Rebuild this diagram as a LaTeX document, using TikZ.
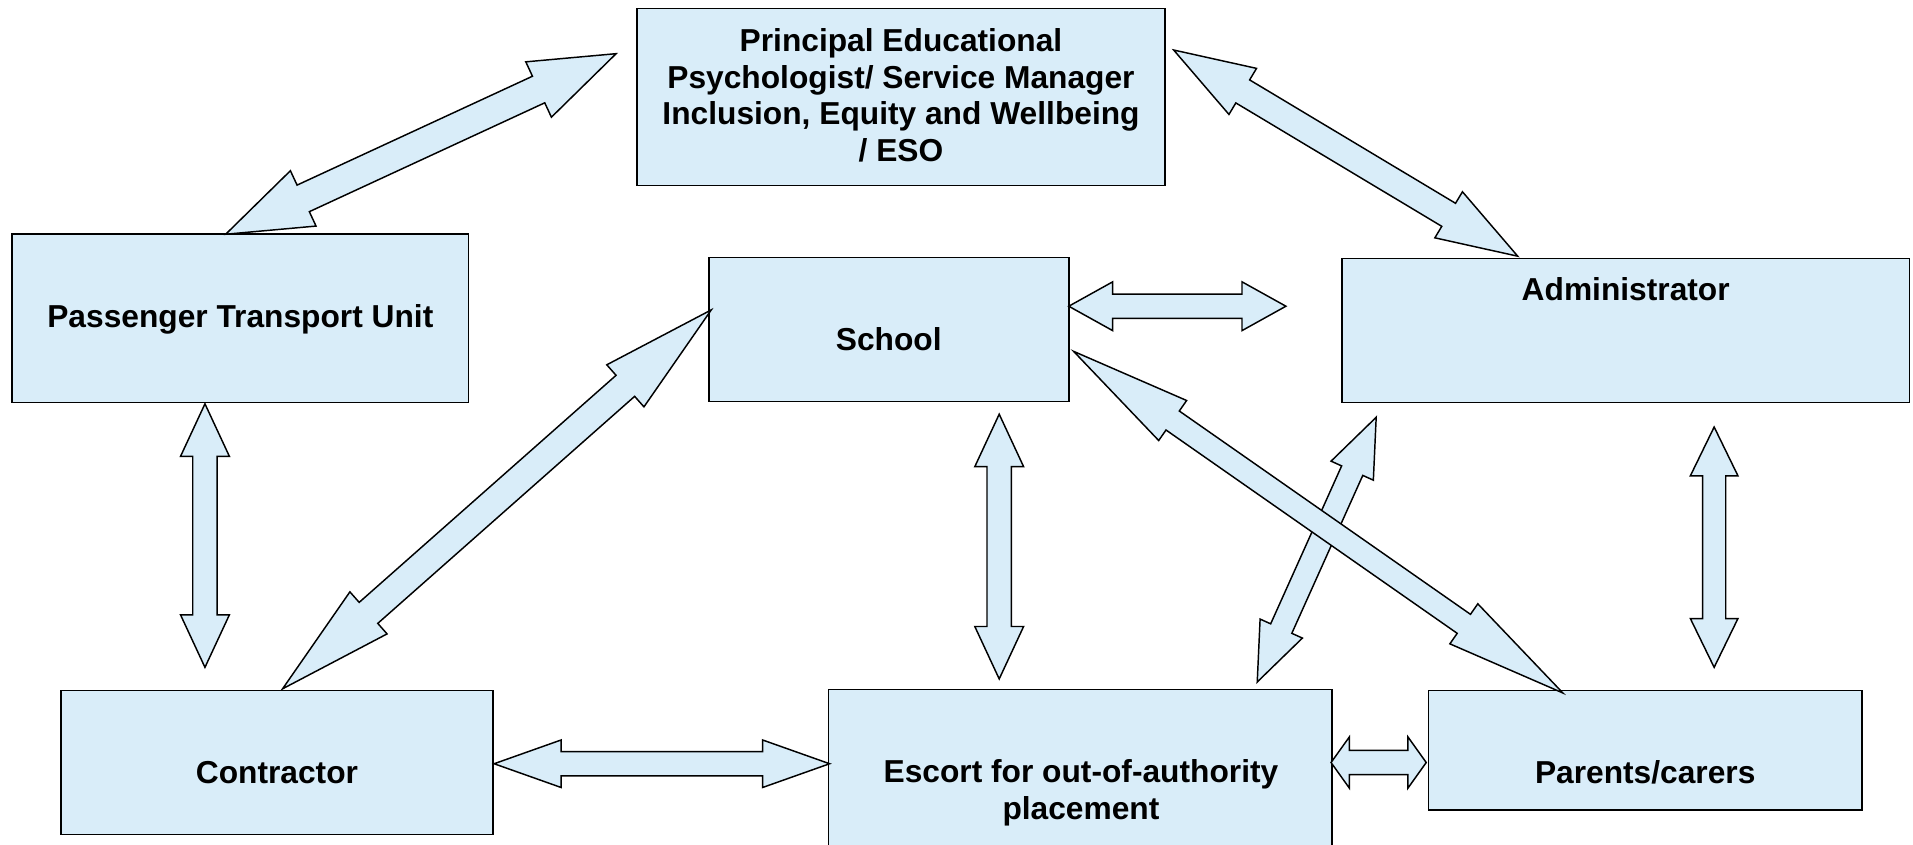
\documentclass[tikz,border=0pt]{standalone}
\usepackage{fontspec}
\setmainfont{Liberation Sans}
\usetikzlibrary{calc}
\definecolor{boxfill}{RGB}{217,237,249}
\tikzset{
  box/.style={draw=black, line width=1.3pt, fill=boxfill, rectangle, inner sep=0pt},
  lbl/.style={font=\bfseries\fontsize{26}{30}\selectfont, align=center, inner sep=0pt},
  blockarr/.style={draw=black, line width=1.2pt, fill=boxfill, line join=miter}
}
% #1 tip A, #2 tip B, #3 head length, #4 head half-width, #5 shaft half-width
\newcommand\blockarrow[5]{%
  \draw[blockarr] (#1)
    -- ($(#1)!#3pt!(#2)!#4pt!90:(#2)$)
    -- ($(#1)!#3pt!(#2)!#5pt!90:(#2)$)
    -- ($(#2)!#3pt!(#1)!#5pt!-90:(#1)$)
    -- ($(#2)!#3pt!(#1)!#4pt!-90:(#1)$)
    -- (#2)
    -- ($(#2)!#3pt!(#1)!#4pt!90:(#1)$)
    -- ($(#2)!#3pt!(#1)!#5pt!90:(#1)$)
    -- ($(#1)!#3pt!(#2)!#5pt!-90:(#2)$)
    -- ($(#1)!#3pt!(#2)!#4pt!-90:(#2)$)
    -- cycle;}
\begin{document}
\begin{tikzpicture}[x=1pt,y=-1pt]
\clip (0,0) rectangle (1568,692);
\useasboundingbox (0,0) rectangle (1568,692);
\fill[white] (0,0) rectangle (1568,692);

% boxes
\node[box, minimum width=433pt, minimum height=145pt] (psych) at (738.5,79.5) {};
\node[box, minimum width=374pt, minimum height=138pt] (ptu) at (197,261) {};
\node[box, minimum width=295pt, minimum height=118pt] (school) at (728.5,270) {};
\node[box, minimum width=465pt, minimum height=118pt] (admin) at (1332.5,271) {};
\node[box, minimum width=354pt, minimum height=118pt] (contractor) at (227,625) {};
\node[box, minimum width=413pt, minimum height=140pt] (escort) at (885.5,635) {};
\node[box, minimum width=355pt, minimum height=98pt] (parents) at (1348.5,615) {};

% labels
\node[lbl] (psych-t) at (738.5,78) {Principal Educational\\Psychologist/ Service Manager\\Inclusion, Equity and Wellbeing\\/ ESO};
\node[lbl, anchor=base] (ptu-t) at (197,268.5) {Passenger Transport Unit};
\node[lbl, anchor=base] (school-t) at (728.5,287.5) {School};
\node[lbl, anchor=base] (admin-t) at (1332.5,246.5) {Administrator};
\node[lbl, anchor=base] (contractor-t) at (227,642.5) {Contractor};
\node[lbl] (escort-t) at (886,650) {Escort for out-of-authority\\placement};
\node[lbl, anchor=base] (parents-t) at (1348.5,642.5) {Parents/carers};

% arrow end points
\coordinate (ptu-up) at (185,192);
\coordinate (psych-left) at (505,44);
\coordinate (psych-right) at (962,41);
\coordinate (admin-top) at (1244,210);
\coordinate (school-right) at (876,251);
\coordinate (admin-left) at (1054,251);
\coordinate (ptu-down) at (168,331);
\coordinate (contractor-up) at (168,547);
\coordinate (contractor-top) at (231.6,564.6);
\coordinate (school-left) at (583,254);
\coordinate (school-down) at (819,339.5);
\coordinate (escort-up) at (819,556.5);
\coordinate (admin-down) at (1405,350);
\coordinate (parents-up) at (1405,547);
\coordinate (admin-bl) at (1128,342);
\coordinate (escort-tr) at (1030.5,559);
\coordinate (school-br) at (880,288);
\coordinate (parents-top) at (1281,568);
\coordinate (contractor-right) at (405,626);
\coordinate (escort-left) at (680,626);
\coordinate (escort-right) at (1091,625);
\coordinate (parents-left) at (1169,625);

% arrows
\blockarrow{ptu-up}{psych-left}{70}{25}{12}
\blockarrow{psych-right}{admin-top}{66}{22}{11}
\blockarrow{school-right}{admin-left}{36}{20}{10}
\blockarrow{ptu-down}{contractor-up}{43}{20}{10}
\blockarrow{contractor-top}{school-left}{94}{23}{11.5}
\blockarrow{school-down}{escort-up}{43}{20}{10}
\blockarrow{admin-down}{parents-up}{40}{19.5}{9.5}
\blockarrow{admin-bl}{escort-tr}{48}{19}{9.5}
\blockarrow{school-br}{parents-top}{99}{20}{9.5}
\blockarrow{contractor-right}{escort-left}{55}{19.5}{10}
\blockarrow{escort-right}{parents-left}{15}{21}{10}
\end{tikzpicture}
\end{document}
